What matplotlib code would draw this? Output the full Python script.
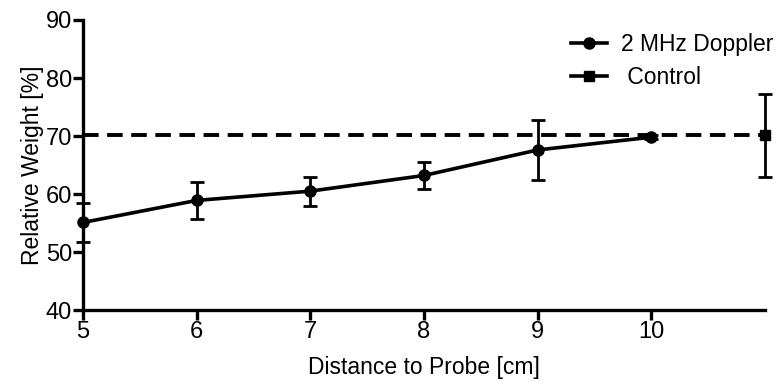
import matplotlib.pyplot as plt
from matplotlib.lines import Line2D

plt.rcParams['font.family'] = ['Liberation Sans', 'DejaVu Sans']

# Doppler data
distance = [5, 6, 7, 8, 9, 10]
doppler_mean = [55.1, 58.9, 60.5, 63.2, 67.6, 69.8]
doppler_err = [3.4, 3.2, 2.5, 2.4, 5.1, 0.3]

# Control data
control_x = [11]
control_mean = [70.1]
control_err = [7.2]

xticks = [5, 6, 7, 8, 9, 10]
yticks = [40, 50, 60, 70, 80, 90]

fig = plt.figure(figsize=(7.83, 3.92), dpi=100)
ax = fig.add_axes([0.106, 0.209, 0.871, 0.740])

# Control: dashed reference line + point with error bar
ax.axhline(control_mean[0], color='black', lw=2.8, ls=(0, (4.0, 2.2)), zorder=1)
ax.errorbar(control_x, control_mean, yerr=control_err, fmt='s', color='black',
            ms=7, elinewidth=2, capsize=5, capthick=2, clip_on=False, zorder=3)

# Doppler line
ax.errorbar(distance, doppler_mean, yerr=doppler_err, fmt='-o', color='black',
            lw=2.6, ms=8, elinewidth=2, capsize=5, capthick=2, clip_on=False, zorder=4)

ax.set_xlim(5, 11)
ax.set_ylim(40, 90)
ax.set_xticks(xticks)
ax.set_yticks(yticks)

for side in ['top', 'right']:
    ax.spines[side].set_visible(False)
for side in ['left', 'bottom']:
    ax.spines[side].set_linewidth(2.4)

ax.tick_params(axis='both', width=2.4, length=7, labelsize=17, pad=1)
ax.set_xlabel('Distance to Probe [cm]', fontsize=16.5, labelpad=9)
ax.set_ylabel('Relative Weight [%]', fontsize=16.5, labelpad=1)

handles = [
    Line2D([], [], color='black', lw=2.6, marker='o', ms=8),
    Line2D([], [], color='black', lw=2.6, marker='s', ms=7),
]
ax.legend(handles, ['2 MHz Doppler', ' Control'], loc='upper left',
          bbox_to_anchor=(0.685, 1.025), frameon=False, fontsize=16.5,
          handlelength=1.6, handletextpad=0.6, labelspacing=0.4)

fig.savefig('out.png', dpi=100)
